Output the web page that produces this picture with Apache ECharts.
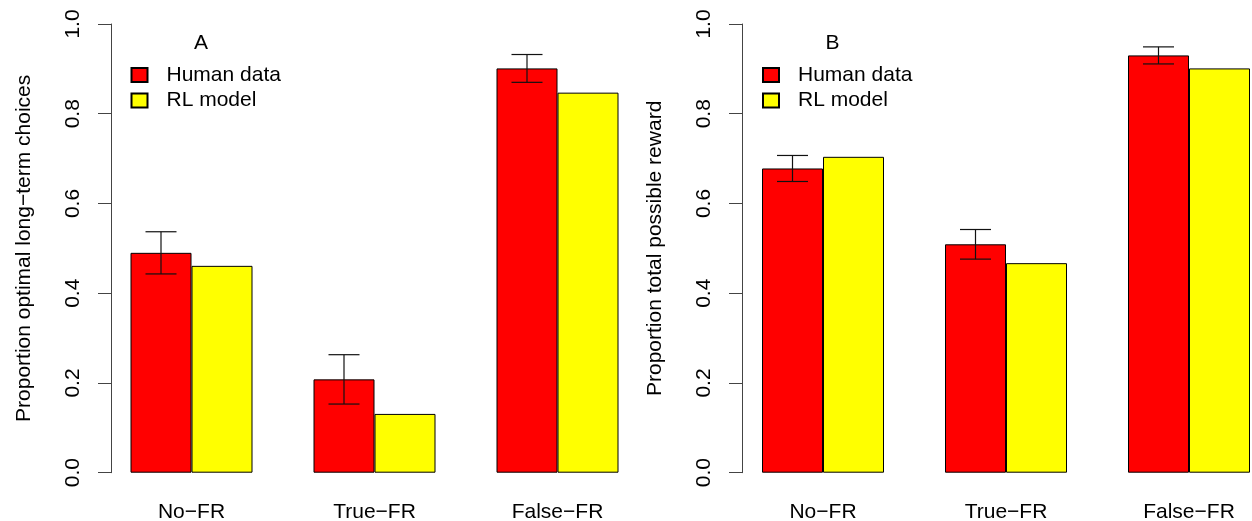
<!DOCTYPE html>
<html>
<head>
<meta charset="utf-8">
<title>Human data vs RL model</title>
<script src="https://cdn.jsdelivr.net/npm/echarts@6/dist/echarts.min.js"></script>
<style>
  html, body { margin: 0; padding: 0; background: #fff; }
  #chart { width: 1252px; height: 521px; }
</style>
</head>
<body>
<div id="chart"></div>
<script>
// 条件
const categories = ['No−FR', 'True−FR', 'False−FR']
const seriesNames = ['Human data', 'RL model']

// A: proportion optimal long-term choices
const humanA = [0.490, 0.208, 0.901]
const humanAErr = [0.047, 0.055, 0.031]
const modelA = [0.461, 0.131, 0.847]

// B: proportion total possible reward
const humanB = [0.678, 0.509, 0.930]
const humanBErr = [0.029, 0.033, 0.019]
const modelB = [0.704, 0.467, 0.901]

const yTicks = [0, 0.2, 0.4, 0.6, 0.8, 1.0]

const FONT = '"Liberation Sans", Arial, Helvetica, sans-serif'
const BAR_W = 61
const FS = 21

const chart = echarts.init(document.getElementById('chart'))

function errData(vals, errs) {
  return vals.map((v, i) => [i, v - errs[i], v + errs[i]])
}

// 误差线 画在红色柱子的中心
function renderErr(params, api) {
  const lo = api.coord([api.value(0), api.value(1)])
  const hi = api.coord([api.value(0), api.value(2)])
  const x = lo[0] - BAR_W / 2
  const half = 15.5
  const style = { stroke: '#111', lineWidth: 1.2 }
  return {
    type: 'group',
    children: [
      { type: 'line', shape: { x1: x, y1: lo[1], x2: x, y2: hi[1] }, style },
      { type: 'line', shape: { x1: x - half, y1: hi[1], x2: x + half, y2: hi[1] }, style },
      { type: 'line', shape: { x1: x - half, y1: lo[1], x2: x + half, y2: lo[1] }, style }
    ]
  }
}

function makeX(gridIndex) {
  return {
    gridIndex,
    type: 'category',
    data: categories,
    axisLine: { show: false },
    axisTick: { show: false },
    axisLabel: { color: '#000', fontSize: FS, fontFamily: FONT, margin: 29 }
  }
}

function makeY(gridIndex, name, offset) {
  return {
    gridIndex,
    type: 'value',
    min: yTicks[0],
    max: yTicks[yTicks.length - 1],
    interval: 0.2,
    offset,
    name,
    nameLocation: 'middle',
    nameRotate: 90,
    nameGap: 76,
    nameTextStyle: { color: '#000', fontSize: FS, fontFamily: FONT },
    axisLine: { show: true, lineStyle: { color: '#444', width: 1 } },
    axisTick: { show: true, length: 13, lineStyle: { color: '#444', width: 1 } },
    axisLabel: {
      rotate: 90,
      margin: 27,
      color: '#000',
      fontSize: FS,
      fontFamily: FONT,
      formatter: v => v.toFixed(1)
    },
    splitLine: { show: false }
  }
}

function makeLegend(left) {
  return {
    orient: 'vertical',
    left,
    top: 63,
    padding: 0,
    itemWidth: 16,
    itemHeight: 14,
    itemGap: 1.5,
    icon: 'rect',
    data: seriesNames,
    selectedMode: false,
    textStyle: { color: '#000', fontSize: FS, fontFamily: FONT, lineHeight: 24, padding: [0, 0, 0, 14] }
  }
}

function makeBars(gridIndex, human, model, errs) {
  return [
    {
      name: seriesNames[0],
      type: 'bar',
      xAxisIndex: gridIndex,
      yAxisIndex: gridIndex,
      data: human,
      barWidth: BAR_W,
      barGap: '0%',
      itemStyle: { color: '#ff0000', borderColor: '#000', borderWidth: 1 }
    },
    {
      name: seriesNames[1],
      type: 'bar',
      xAxisIndex: gridIndex,
      yAxisIndex: gridIndex,
      data: model,
      barWidth: BAR_W,
      barGap: '0%',
      itemStyle: { color: '#ffff00', borderColor: '#000', borderWidth: 1 }
    },
    {
      type: 'custom',
      xAxisIndex: gridIndex,
      yAxisIndex: gridIndex,
      data: errData(human, errs),
      renderItem: renderErr,
      z: 5
    }
  ]
}

const option = {
  animation: false,
  backgroundColor: '#fff',
  textStyle: { fontFamily: FONT },
  title: [
    { text: 'A', left: 194, top: 33, padding: 0, textStyle: { fontSize: FS, fontWeight: 'normal', color: '#000', fontFamily: FONT } },
    { text: 'B', left: 825.5, top: 33, padding: 0, textStyle: { fontSize: FS, fontWeight: 'normal', color: '#000', fontFamily: FONT } }
  ],
  legend: [makeLegend(130.5), makeLegend(762)],
  grid: [
    { left: 100, width: 549, top: 24, bottom: 48.3, outerBoundsMode: 'none' },
    { left: 731.5, width: 549, top: 24, bottom: 48.3, outerBoundsMode: 'none' }
  ],
  xAxis: [makeX(0), makeX(1)],
  yAxis: [
    makeY(0, 'Proportion optimal long−term choices', -11),
    makeY(1, 'Proportion total possible reward', -10.5)
  ],
  series: [].concat(
    makeBars(0, humanA, modelA, humanAErr),
    makeBars(1, humanB, modelB, humanBErr)
  )
}

chart.setOption(option)
</script>
</body>
</html>
